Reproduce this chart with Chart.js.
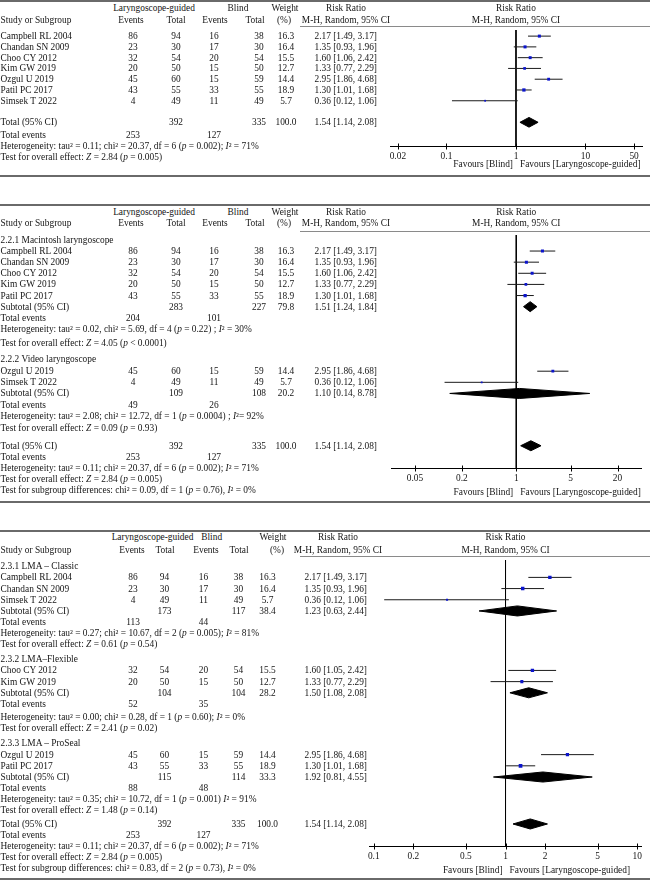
<!DOCTYPE html>
<html><head><meta charset="utf-8">
<script src="https://cdn.jsdelivr.net/npm/chart.js@4.4.1/dist/chart.umd.min.js"></script>
<style>
html,body{margin:0;padding:0;background:#fff;}
#page{position:relative;width:650px;height:880px;overflow:hidden;font-family:"Liberation Serif","Times New Roman",serif;font-size:9.4px;color:#151515;}
.t{position:absolute;white-space:nowrap;height:12px;line-height:12px;z-index:3;}
.ln{position:absolute;z-index:2;}
canvas{position:absolute;left:0;z-index:1;}
</style></head><body><div id="page"></div>
<script>
// ---------------- DATA ----------------
const studies   = ["Campbell RL 2004","Chandan SN 2009","Choo CY 2012","Kim GW 2019","Ozgul U 2019","Patil PC 2017","Simsek T 2022"];
const lgEvents  = [86,23,32,20,45,43,4];
const lgTotals  = [94,30,54,50,60,55,49];
const blEvents  = [16,17,20,15,15,33,11];
const blTotals  = [38,30,54,50,59,55,49];
const weights   = [16.3,16.4,15.5,12.7,14.4,18.9,5.7];
const rr        = [2.17,1.35,1.60,1.33,2.95,1.30,0.36];
const rrLow     = [1.49,0.93,1.06,0.77,1.86,1.01,0.12];
const rrHigh    = [3.17,1.96,2.42,2.29,4.68,1.68,1.06];
const rrLowLma  = [1.49,0.93,1.05,0.77,1.86,1.01,0.12]; // as printed in the LMA figure

const totalLgEvents = 253, totalBlEvents = 127, totalLg = 392, totalBl = 335, totalWeight = 100.0;
const totalRR = 1.54, totalLow = 1.14, totalHigh = 2.08;
const overallHet  = 'Heterogeneity: tau² = 0.11; chi² = 20.37, df = 6 (<i>p</i> = 0.002); <i>I</i>² = 71%';
const overallTest = 'Test for overall effect: <i>Z</i> = 2.84 (<i>p</i> = 0.005)';

// Figure 2 subgroups
const sub2Names    = ["2.2.1 Macintosh laryngoscope","2.2.2 Video laryngoscope"];
const sub2Members  = [[0,1,2,3,5],[4,6]];
const sub2LgEvents = [204,49];
const sub2BlEvents = [101,26];
const sub2LgTotals = [283,109];
const sub2BlTotals = [227,108];
const sub2Weights  = [79.8,20.2];
const sub2RR       = [1.51,1.10];
const sub2Low      = [1.24,0.14];
const sub2High     = [1.84,8.78];
const sub2Het  = ['Heterogeneity: tau² = 0.02, chi² = 5.69, df = 4 (<i>p</i> = 0.22) ; <i>I</i>² = 30%',
                  'Heterogeneity: tau² = 2.08; chi² = 12.72, df = 1 (<i>p</i> = 0.0004) ; <i>I</i>²= 92%'];
const sub2Test = ['Test for overall effect: <i>Z</i> = 4.05 (<i>p</i> &lt; 0.0001)',
                  'Test for overall effect: <i>Z</i> = 0.09 (<i>p</i> = 0.93)'];
const sub2Diff = 'Test for subgroup differences: chi² = 0.09, df = 1 (<i>p</i> = 0.76), <i>I</i>² = 0%';

// Figure 3 subgroups
const sub3Names    = ["2.3.1 LMA \u2013 Classic","2.3.2 LMA\u2013Flexible","2.3.3 LMA \u2013 ProSeal"];
const sub3Members  = [[0,1,6],[2,3],[4,5]];
const sub3LgEvents = [113,52,88];
const sub3BlEvents = [44,35,48];
const sub3LgTotals = [173,104,115];
const sub3BlTotals = [117,104,114];
const sub3Weights  = [38.4,28.2,33.3];
const sub3RR       = [1.23,1.50,1.92];
const sub3Low      = [0.63,1.08,0.81];
const sub3High     = [2.44,2.08,4.55];
const sub3Het  = ['Heterogeneity: tau² = 0.27; chi² = 10.67, df = 2 (<i>p</i> = 0.005); <i>I</i>² = 81%',
                  'Heterogeneity: tau² = 0.00; chi² = 0.28, df = 1 (<i>p</i> = 0.60); <i>I</i>² = 0%',
                  'Heterogeneity: tau² = 0.35; chi² = 10.72, df = 1 (<i>p</i> = 0.001) <i>I</i>² = 91%'];
const sub3Test = ['Test for overall effect: <i>Z</i> = 0.61 (<i>p</i> = 0.54)',
                  'Test for overall effect: <i>Z</i> = 2.41 (<i>p</i> = 0.02)',
                  'Test for overall effect: <i>Z</i> = 1.48 (<i>p</i> = 0.14)'];
const sub3Diff = 'Test for subgroup differences: chi² = 0.83, df = 2 (<i>p</i> = 0.73), <i>I</i>² = 0%';

// Axis ticks
const ticks1 = [0.02,0.1,1,10,50];        const tickLabels1 = ["0.02","0.1","1","10","50"];
const ticks2 = [0.05,0.2,1,5,20];         const tickLabels2 = ["0.05","0.2","1","5","20"];
const ticks3 = [0.1,0.2,0.5,1,2,5,10];    const tickLabels3 = ["0.1","0.2","0.5","1","2","5","10"];

// ---------------- ROW BUILDERS ----------------
function studyRow(i, lows){ return {kind:'study', label:studies[i], lgEv:lgEvents[i], lgTot:lgTotals[i], blEv:blEvents[i], blTot:blTotals[i], w:weights[i], rr:rr[i], lo:lows[i], hi:rrHigh[i]}; }
function totalRows(){ return [
  {kind:'total', label:'Total (95% CI)', lgTot:totalLg, blTot:totalBl, w:totalWeight, rr:totalRR, lo:totalLow, hi:totalHigh},
  {kind:'events', label:'Total events', lgEv:totalLgEvents, blEv:totalBlEvents},
  {kind:'note', html:overallHet},
  {kind:'note', html:overallTest}]; }
function subgroupRows(names, members, lgE, blE, lgT, blT, w, r, lo, hi, het, test, lows){
  const out = [];
  names.forEach((n,g)=>{
    out.push({kind:'heading', label:n});
    members[g].forEach(i=>out.push(studyRow(i, lows)));
    out.push({kind:'subtotal', label:'Subtotal (95% CI)', lgTot:lgT[g], blTot:blT[g], w:w[g], rr:r[g], lo:lo[g], hi:hi[g]});
    out.push({kind:'events', label:'Total events', lgEv:lgE[g], blEv:blE[g]});
    out.push({kind:'note', html:het[g]});
    out.push({kind:'note', html:test[g]});
  });
  return out;
}
const rows1 = studies.map((s,i)=>studyRow(i, rrLow)).concat(totalRows());
const rows2 = subgroupRows(sub2Names, sub2Members, sub2LgEvents, sub2BlEvents, sub2LgTotals, sub2BlTotals, sub2Weights, sub2RR, sub2Low, sub2High, sub2Het, sub2Test, rrLow)
              .concat(totalRows(), [{kind:'note', html:sub2Diff}]);
const rows3 = subgroupRows(sub3Names, sub3Members, sub3LgEvents, sub3BlEvents, sub3LgTotals, sub3BlTotals, sub3Weights, sub3RR, sub3Low, sub3High, sub3Het, sub3Test, rrLowLma)
              .concat(totalRows(), [{kind:'note', html:sub3Diff}]);

// ---------------- LAYOUT ----------------
const colsA = {lgEv:133, lgTot:176, blEv:214, blTot:259, wt:286, rrR:377, hLG:154, hBl:238, hEv1:131, hTot1:176, hEv2:215, hTot2:255, hWt:285, hPct:284, hRR:346};
const colsB = {lgEv:133, lgTot:164.5, blEv:203.5, blTot:238.5, wt:267.5, rrR:367, hLG:152.5, hBl:211.7, hEv1:132, hTot1:165, hEv2:206, hTot2:239, hWt:273, hPct:277, hRR:338};

const panels = [
  {rows:rows1, cols:colsA, topLine:0, hdr1:7.5, hdr2:19.5, headerLine:26, origin:32.3, pitch:11.1,
   slots:[0,1,2,3,4,5,6, 8.0,9.2,10.2,11.2], axisSlot:10.2,
   xMin:0.0154, xMax:65, axisLeft:390, axisRight:642, ticks:ticks1, tickLabels:tickLabels1,
   favY:164, bottomLine:174.5, sq:0.75},
  {rows:rows2, cols:colsA, topLine:203.5, hdr1:211.5, hdr2:222.5, headerLine:230.5, origin:236, pitch:11.34,
   slots:[0,1,2,3,4,5,6,7,8,9.3, 10.7,11.8,12.8,13.8,14.8,15.8,16.9, 18.5,19.5,20.5,21.5,22.5], axisSlot:20.5,
   xMin:0.025, xMax:40, axisLeft:391.5, axisRight:641, ticks:ticks2, tickLabels:tickLabels2,
   favY:491.5, bottomLine:500.5, sq:0.75},
  {rows:rows3, cols:colsB, topLine:530, hdr1:537.3, hdr2:549.5, headerLine:556, origin:562.3, pitch:11.34,
   slots:[0,1,2,3,4,5,6,7, 8.32,9.32,10.32,11.32,12.32,13.45,14.5, 15.85,16.85,17.85,18.85,19.85,20.85,21.8, 23.05,24.05,25.02,26.0,26.98], axisSlot:25.02,
   xMin:0.0925, xMax:10.8, axisLeft:369.3, axisRight:641.7, ticks:ticks3, tickLabels:tickLabels3,
   favY:869.5, bottomLine:878, sq:0.85}
];

const page = document.getElementById('page');
function addText(html, x, y, align){
  const d = document.createElement('div');
  d.className = 't';
  d.innerHTML = html;
  d.style.top = (y - 6) + 'px';
  if (align === 'left') d.style.left = x + 'px';
  else if (align === 'right') d.style.right = (650 - x) + 'px';
  else { d.style.left = x + 'px'; d.style.transform = 'translateX(-50%)'; }
  page.appendChild(d);
}
function addLine(x1, x2, y, h, color){
  const d = document.createElement('div');
  d.className = 'ln';
  d.style.left = x1 + 'px'; d.style.width = (x2 - x1) + 'px';
  d.style.top = y + 'px'; d.style.height = h + 'px'; d.style.background = color;
  page.appendChild(d);
}
const rrText = (r, lo, hi) => `${r.toFixed(2)} [${lo.toFixed(2)}, ${hi.toFixed(2)}]`;

const crossTicks = {
  id:'crossTicks',
  afterDraw(chart){
    const xs = chart.scales.x, ctx = chart.ctx, y = Math.round(xs.top) + 0.5;
    ctx.save(); ctx.strokeStyle = '#000'; ctx.lineWidth = 1;
    xs.ticks.forEach(t=>{
      const px = Math.round(xs.getPixelForValue(t.value)) + 0.5;
      ctx.beginPath(); ctx.moveTo(px, y - 3); ctx.lineTo(px, y + 3); ctx.stroke();
    });
    ctx.restore();
  }
};

const XH = 36;
panels.forEach(P=>{
  P.rows.forEach((r,k)=>{ r.slot = P.slots[k]; });
  const axisY = P.origin + P.axisSlot * P.pitch;
  const top = Math.round(P.headerLine);
  const areaH = Math.round(axisY) - top;
  const cv = document.createElement('canvas');
  cv.width = 650; cv.height = areaH + XH;
  cv.style.width = '650px'; cv.style.height = (areaH + XH) + 'px'; cv.style.top = top + 'px';
  page.appendChild(cv);
  const yMin = (top - P.origin) / P.pitch, yMax = P.axisSlot;

  const ds = [];
  const sqData = [], sqRad = [];
  const H = 0.45;
  P.rows.forEach(r=>{
    if (r.kind === 'study'){
      ds.push({data:[{x:r.lo,y:r.slot},{x:r.hi,y:r.slot}], showLine:true, borderColor:'#1a1a1a', borderWidth:1, pointRadius:0, order:2});
      sqData.push({x:r.rr, y:r.slot});
      sqRad.push(P.sq * Math.sqrt(r.w) / Math.SQRT2);
    } else if (r.kind === 'subtotal' || r.kind === 'total'){
      ds.push({data:[{x:r.lo,y:r.slot},{x:r.rr,y:r.slot-H},{x:r.hi,y:r.slot},{x:r.rr,y:r.slot+H},{x:r.lo,y:r.slot}],
               showLine:true, fill:'shape', backgroundColor:'#000', borderColor:'#000', borderWidth:1, pointRadius:0, order:3});
    }
  });
  ds.push({data:[{x:1,y:yMin},{x:1,y:yMax}], showLine:true, borderColor:'#000', borderWidth:1, pointRadius:0, order:4});
  ds.unshift({data:sqData, pointStyle:'rect', pointRadius:sqRad, pointBackgroundColor:'#0b14cc', pointBorderWidth:0, showLine:false, order:0});

  const chart = new Chart(cv, {
    type:'scatter',
    data:{datasets:ds},
    options:{
      responsive:false, animation:false, events:[], devicePixelRatio:1,
      layout:{padding:{left:P.axisLeft, right:650 - P.axisRight, top:0, bottom:0}},
      plugins:{legend:{display:false}, tooltip:{enabled:false}},
      scales:{
        x:{type:'logarithmic', min:P.xMin, max:P.xMax,
           grid:{display:false, drawTicks:false},
           border:{display:true, color:'#000', width:1},
           ticks:{autoSkip:false, maxRotation:0, minRotation:0, padding:5, color:'#151515',
                  font:{family:'"Liberation Serif", serif', size:9.4},
                  callback:(v,i)=>P.tickLabels[i]},
           afterBuildTicks:(s)=>{ s.ticks = P.ticks.map(v=>({value:v})); },
           afterFit:(s)=>{ s.height = XH; }},
        y:{type:'linear', display:false, reverse:true, min:yMin, max:yMax}
      }
    },
    plugins:[crossTicks]
  });

  const ys = chart.scales.y, xs = chart.scales.x;
  const rowY = (slot) => top + ys.getPixelForValue(slot);
  const x1 = xs.getPixelForValue(1);
  const C = P.cols;

  // frame lines
  addLine(0, 650, P.topLine, 2, '#6a6a6a');
  addLine(300, 650, P.headerLine, 1, '#8a8a8a');
  addLine(0, 650, P.bottomLine, 2, '#6a6a6a');

  // headers
  addText('Laryngoscope-guided', C.hLG, P.hdr1, 'center');
  addText('Blind', C.hBl, P.hdr1, 'center');
  addText('Weight', C.hWt, P.hdr1, 'center');
  addText('Risk Ratio', C.hRR, P.hdr1, 'center');
  addText('Risk Ratio', x1, P.hdr1, 'center');
  addText('Study or Subgroup', 0.5, P.hdr2, 'left');
  addText('Events', C.hEv1, P.hdr2, 'center');
  addText('Total', C.hTot1, P.hdr2, 'center');
  addText('Events', C.hEv2, P.hdr2, 'center');
  addText('Total', C.hTot2, P.hdr2, 'center');
  addText('(%)', C.hPct, P.hdr2, 'center');
  addText('M-H, Random, 95% CI', C.hRR, P.hdr2, 'center');
  addText('M-H, Random, 95% CI', x1, P.hdr2, 'center');

  // rows
  P.rows.forEach(r=>{
    const y = rowY(r.slot);
    if (r.kind === 'note' || r.kind === 'heading'){
      addText(r.html || r.label, 0.5, y, 'left');
      return;
    }
    addText(r.label, 0.5, y, 'left');
    if (r.kind === 'events'){
      addText(String(r.lgEv), C.lgEv, y, 'center');
      addText(String(r.blEv), C.blEv, y, 'center');
      return;
    }
    if (r.kind === 'study'){
      addText(String(r.lgEv), C.lgEv, y, 'center');
      addText(String(r.blEv), C.blEv, y, 'center');
    }
    addText(String(r.lgTot), C.lgTot, y, 'center');
    addText(String(r.blTot), C.blTot, y, 'center');
    addText(r.w.toFixed(1), C.wt, y, 'center');
    addText(rrText(r.rr, r.lo, r.hi), C.rrR, y, 'right');
  });

  // favours labels
  addText('Favours [Blind]', x1 - 3, P.favY, 'right');
  addText('Favours [Laryngoscope-guided]', x1 + 4, P.favY, 'left');
});
</script>
</body></html>
